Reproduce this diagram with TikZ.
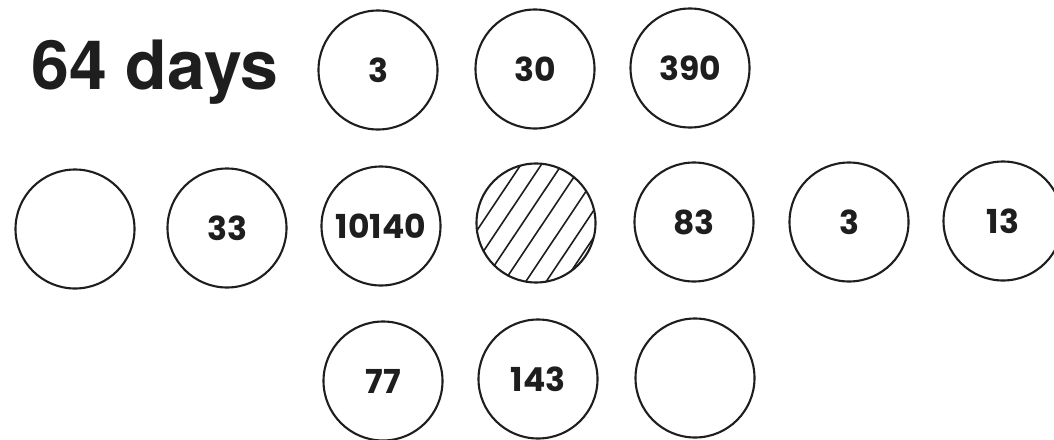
\documentclass[tikz,border=0pt]{standalone}
\usepackage{fontspec}
\newfontfamily\titlefont{TeX Gyre Heros}
\newfontfamily\numfont{Poppins}
\usetikzlibrary{calc}
\definecolor{ink}{HTML}{1E1E1E}
\begin{document}
\begin{tikzpicture}[x=1pt,y=-1pt,
  disc/.style={draw=ink,line width=2.1pt,circle,inner sep=0pt,minimum size=119pt,
    font=\numfont\bfseries\fontsize{33}{33}\selectfont,text=ink},
  hatchline/.style={draw=ink,line width=1.6pt}]
\useasboundingbox (0,0) rectangle (1054,439);
\clip (0,0) rectangle (1054,439);
\fill[white] (0,0) rectangle (1054,439);
\node[anchor=base west,inner sep=0pt,text=ink,font=\titlefont\bfseries\fontsize{68}{68}\selectfont] (title) at (31,89) {64 days};
% top row
\node[disc] (t1) at (378,70) {3};
\node[disc] (t2) at (535,69) {30};
\node[disc] (t3) at (690,68) {390};
% middle row
\node[disc] (m1) at (75,229) {};
\node[disc] (m2) at (227,228) {33};
\node[disc] (m3) at (381,226) {10140};
\node[disc] (h) at (536,223) {};
\node[disc] (m5) at (694,222) {83};
\node[disc] (m6) at (849,222) {3};
\node[disc] (m7) at (1003,221) {13};
% bottom row
\node[disc] (b1) at (383,381) {77};
\node[disc] (b2) at (538,379) {143};
\node[disc] (b3) at (695,378) {};
% hatching
\begin{scope}
\clip (h.center) circle[radius=59];
\draw[hatchline] ($(h.center)+(-76.3,33.2)$) -- ($(h.center)+(1.5,-83.2)$);
\draw[hatchline] ($(h.center)+(-62.2,42.7)$) -- ($(h.center)+(15.6,-73.7)$);
\draw[hatchline] ($(h.center)+(-48.1,52.1)$) -- ($(h.center)+(29.7,-64.3)$);
\draw[hatchline] ($(h.center)+(-33.9,61.5)$) -- ($(h.center)+(43.9,-54.9)$);
\draw[hatchline] ($(h.center)+(-18.9,71.5)$) -- ($(h.center)+(58.9,-44.9)$);
\draw[hatchline] ($(h.center)+(-4.8,81.0)$) -- ($(h.center)+(73.0,-35.4)$);
\draw[hatchline] ($(h.center)+(7.7,89.3)$) -- ($(h.center)+(85.5,-27.1)$);
\end{scope}
\end{tikzpicture}
\end{document}
